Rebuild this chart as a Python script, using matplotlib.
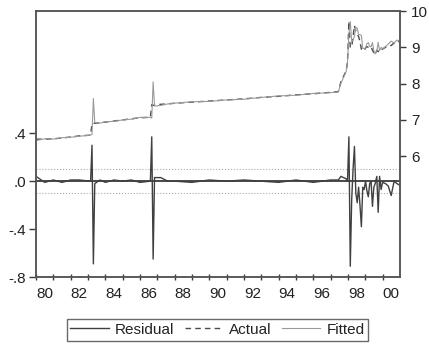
import matplotlib
matplotlib.use("Agg")
import matplotlib.pyplot as plt

plt.rcParams['font.family'] = ['Liberation Sans', 'DejaVu Sans']

# decimal dates and the three series
dates = [1980.0, 1980.5, 1981.0, 1981.5, 1982.0, 1982.5, 1983.15, 1983.23, 1983.31, 1983.39,
         1983.7, 1984.0, 1984.5, 1985.0, 1985.5, 1986.0, 1986.6, 1986.68, 1986.76, 1986.84,
         1987.2, 1987.6, 1988.0, 1989.0, 1990.0, 1991.0, 1992.0, 1993.0, 1994.0, 1995.0,
         1996.0, 1997.0, 1997.45, 1997.6, 1997.75, 1997.9, 1997.98, 1998.06, 1998.14, 1998.22,
         1998.3, 1998.38, 1998.46, 1998.54, 1998.62, 1998.7, 1998.78, 1998.86, 1998.94, 1999.02,
         1999.1, 1999.18, 1999.26, 1999.34, 1999.42, 1999.5, 1999.58, 1999.67, 1999.75, 1999.83,
         1999.92, 2000.0, 2000.17, 2000.33, 2000.5, 2000.67, 2000.83, 2000.95]
actual = [6.47, 6.47, 6.48, 6.50, 6.53, 6.56, 6.58, 6.90, 6.90, 6.91,
          6.92, 6.94, 6.97, 7.00, 7.03, 7.06, 7.07, 7.42, 7.40, 7.41,
          7.43, 7.44, 7.46, 7.49, 7.52, 7.55, 7.58, 7.62, 7.65, 7.69,
          7.72, 7.76, 7.78, 8.05, 8.20, 8.35, 8.60, 9.72, 9.00, 9.00,
          9.30, 9.60, 9.45, 9.35, 9.30, 9.15, 8.95, 8.92, 8.90, 8.98,
          9.02, 9.00, 9.00, 9.02, 8.92, 8.85, 8.80, 8.92, 8.88, 8.95,
          8.93, 8.95, 9.00, 9.05, 9.05, 9.12, 9.18, 9.15]
fitted = [6.43, 6.48, 6.47, 6.51, 6.52, 6.55, 6.58, 6.60, 7.59, 6.93,
          6.91, 6.95, 6.96, 7.00, 7.02, 7.07, 7.07, 7.05, 8.05, 7.38,
          7.40, 7.44, 7.46, 7.50, 7.51, 7.55, 7.57, 7.62, 7.66, 7.68,
          7.73, 7.75, 7.77, 8.01, 8.17, 8.33, 8.60, 9.35, 9.71, 9.16,
          9.20, 9.31, 9.55, 9.53, 9.35, 9.35, 9.33, 8.97, 8.97, 8.98,
          9.10, 9.13, 9.02, 9.02, 9.13, 8.90, 8.82, 8.88, 9.14, 8.91,
          9.00, 8.96, 9.02, 9.09, 9.17, 9.12, 9.20, 9.18]
resid = [0.04, -0.01, 0.01, -0.01, 0.01, 0.01, 0.00, 0.30, -0.69, -0.02,
         0.01, -0.01, 0.01, 0.00, 0.01, -0.01, 0.00, 0.37, -0.65, 0.03,
         0.03, 0.00, 0.00, -0.01, 0.01, 0.00, 0.01, 0.00, -0.01, 0.01,
         -0.01, 0.01, 0.01, 0.04, 0.03, 0.02, 0.00, 0.37, -0.71, -0.16,
         0.10, 0.29, -0.10, -0.18, -0.05, -0.20, -0.38, -0.05, -0.07, 0.00,
         -0.08, -0.13, -0.02, 0.00, -0.21, -0.05, -0.02, 0.04, -0.26, 0.04,
         -0.07, -0.01, -0.02, -0.04, -0.12, 0.00, -0.02, -0.03]
se_band = 0.1

left_ticks = [-0.8, -0.4, 0.0, 0.4]
left_labels = ['-.8', '-.4', '.0', '.4']
right_ticks = [6, 7, 8, 9, 10]
year_labels = ['80', '82', '84', '86', '88', '90', '92', '94', '96', '98', '00']

fig = plt.figure(figsize=(4.29, 3.45), dpi=100)
ax = fig.add_axes([0.084, 0.197, 0.848, 0.771])
ax2 = ax.twinx()

dark = '#3a3a3a'
ax.axhline(0, color=dark, lw=1.3, zorder=1)
ax.axhline(se_band, color='#aaaaaa', lw=0.8, ls=':', zorder=1)
ax.axhline(-se_band, color='#aaaaaa', lw=0.8, ls=':', zorder=1)
l_res, = ax.plot(dates, resid, color='#404040', lw=1.0, label='Residual', zorder=2)
l_act, = ax2.plot(dates, actual, color='#4a4a4a', lw=1.0, ls=(0, (4, 3)), label='Actual')
l_fit, = ax2.plot(dates, fitted, color='#9a9a9a', lw=0.8, label='Fitted')

ax.set_xlim(1980.0, 2001.0)
ax.set_ylim(-0.8, 1.42)
ax2.set_ylim(2.67, 10.0)

ax.set_yticks(left_ticks)
ax.set_yticklabels(left_labels)
ax2.set_yticks(right_ticks)

ax.set_xticks(range(1980, 2001))
ax.set_xticklabels([])
ax.set_xticks([1980.5 + 2 * i for i in range(len(year_labels))], minor=True)
ax.set_xticklabels(year_labels, minor=True)

ax.tick_params(axis='x', which='major', direction='inout', length=5, width=1, color=dark)
ax.tick_params(axis='x', which='minor', length=0, pad=7, labelsize=11, labelcolor='#222222')
ax.tick_params(axis='y', direction='out', length=5, width=1, color=dark, pad=2,
               labelsize=11, labelcolor='#222222')
ax2.tick_params(axis='y', direction='out', length=4, width=1, color=dark, pad=4,
                labelsize=11, labelcolor='#222222')

for a in (ax, ax2):
    for s in a.spines.values():
        s.set_color('#555555')
        s.set_linewidth(1.1)

leg = fig.legend(handles=[l_res, l_act, l_fit], loc='center', bbox_to_anchor=(0.507, 0.044),
                 ncol=3, fontsize=11, frameon=True, fancybox=False, handlelength=2.5,
                 handletextpad=0.4, columnspacing=0.7, borderpad=0.25)
leg.get_frame().set_edgecolor('#444444')
leg.get_frame().set_linewidth(1.0)
for t in leg.get_texts():
    t.set_color('#222222')

fig.savefig('out.png', dpi=100)
